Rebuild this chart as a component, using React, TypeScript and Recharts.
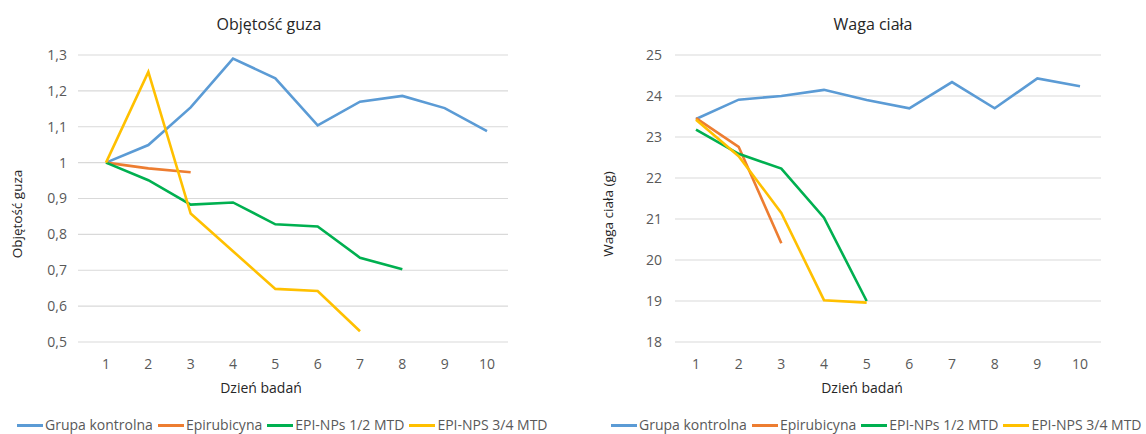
import React from "react";
import { LineChart, Line, XAxis, YAxis, CartesianGrid } from "recharts";

// dni badania
const days = [1, 2, 3, 4, 5, 6, 7, 8, 9, 10];

// objętość guza (względna)
const tumorControl = [1, 1.049, 1.154, 1.29, 1.235, 1.104, 1.17, 1.186, 1.152, 1.088];
const tumorEpi = [1, 0.984, 0.973];
const tumorNp12 = [1, 0.951, 0.883, 0.889, 0.828, 0.822, 0.735, 0.703];
const tumorNp34 = [1, 1.253, 0.858, 0.753, 0.648, 0.642, 0.53];
const tumorTicks = [0.5, 0.6, 0.7, 0.8, 0.9, 1, 1.1, 1.2, 1.3];

// waga ciała (g)
const weightControl = [23.44, 23.91, 24.0, 24.15, 23.9, 23.7, 24.34, 23.7, 24.43, 24.24];
const weightEpi = [23.46, 22.76, 20.41];
const weightNp12 = [23.18, 22.59, 22.23, 21.03, 19.0];
const weightNp34 = [23.42, 22.53, 21.15, 19.02, 18.96];
const weightTicks = [18, 19, 20, 21, 22, 23, 24, 25];

const seriesNames = ["Grupa kontrolna", "Epirubicyna", "EPI-NPs 1/2 MTD", "EPI-NPS 3/4 MTD"];
const seriesKeys = ["control", "epi", "np12", "np34"];
const colors = ["#5B9BD5", "#ED7D31", "#00B050", "#FFC000"];

const FONT = "'Open Sans', 'DejaVu Sans', sans-serif";

function buildRows(series: number[][]) {
  return days.map((d, i) => {
    const row: Record<string, number | undefined> = { day: d };
    seriesKeys.forEach((k, j) => {
      row[k] = series[j][i];
    });
    return row;
  });
}

const tumorRows = buildRows([tumorControl, tumorEpi, tumorNp12, tumorNp34]);
const weightRows = buildRows([weightControl, weightEpi, weightNp12, weightNp34]);

const fmt = (v: number) => String(v).replace(".", ",");

interface PanelProps {
  left: number;
  title: string;
  titleX: number;
  yLabel: string;
  yLabelX: number;
  xLabelX: number;
  legendX: number;
  rows: Record<string, number | undefined>[];
  domain: [number, number];
  ticks: number[];
  yAxisWidth: number;
  rightMargin: number;
  padLeft: number;
  padRight: number;
  tickMargin: number;
}

function Panel(p: PanelProps) {
  return (
    <div style={{ position: "absolute", left: p.left, top: 0, width: 573, height: 434 }}>
      <LineChart
        width={573}
        height={434}
        data={p.rows}
        margin={{ top: 55, right: p.rightMargin, bottom: 42, left: 0 }}
      >
        <CartesianGrid vertical={false} stroke="#d9d9d9" strokeWidth={1.2} />
        <XAxis
          dataKey="day"
          height={50}
          padding={{ left: p.padLeft, right: p.padRight }}
          axisLine={false}
          tickLine={false}
          tickSize={0}
          tickMargin={17}
          tick={{ fill: "#595959", fontSize: 14, fontFamily: FONT }}
        />
        <YAxis
          width={p.yAxisWidth}
          domain={p.domain}
          ticks={p.ticks}
          axisLine={false}
          tickLine={false}
          tickSize={0}
          tickMargin={p.tickMargin}
          tickFormatter={fmt}
          tick={{ fill: "#595959", fontSize: 14, fontFamily: FONT }}
        />
        {seriesKeys.map((k, i) => (
          <Line
            key={k}
            dataKey={k}
            stroke={colors[i]}
            strokeWidth={2.6}
            dot={false}
            activeDot={false}
            isAnimationActive={false}
          />
        ))}
      </LineChart>
      <div
        style={{
          position: "absolute",
          left: p.titleX,
          top: 24,
          transform: "translate(-50%, -50%)",
          fontFamily: FONT,
          fontSize: 16,
          color: "#262626",
          whiteSpace: "nowrap",
        }}
      >
        {p.title}
      </div>
      <div
        style={{
          position: "absolute",
          left: p.yLabelX,
          top: 214,
          transform: "translate(-50%, -50%) rotate(-90deg)",
          fontFamily: FONT,
          fontSize: 13.5,
          color: "#262626",
          whiteSpace: "nowrap",
        }}
      >
        {p.yLabel}
      </div>
      <div
        style={{
          position: "absolute",
          left: p.xLabelX,
          top: 387,
          transform: "translate(-50%, -50%)",
          fontFamily: FONT,
          fontSize: 14,
          color: "#262626",
          whiteSpace: "nowrap",
        }}
      >
        Dzień badań
      </div>
      <div
        style={{
          position: "absolute",
          left: p.legendX,
          top: 417,
          display: "flex",
          alignItems: "center",
          fontFamily: FONT,
          fontSize: 14,
          color: "#595959",
          whiteSpace: "nowrap",
          lineHeight: "16px",
        }}
      >
        {seriesNames.map((n, i) => (
          <div key={n} style={{ display: "flex", alignItems: "center", marginRight: 5 }}>
            <span
              style={{ display: "inline-block", width: 26, height: 3, background: colors[i], marginRight: 2 }}
            />
            <span>{n}</span>
          </div>
        ))}
      </div>
    </div>
  );
}

export default function App() {
  return (
    <div style={{ position: "absolute", left: 0, top: 0, width: 1146, height: 434, background: "#fff", overflow: "hidden" }}>
      <Panel
        left={0}
        title="Objętość guza"
        titleX={269}
        yLabel="Objętość guza"
        yLabelX={17}
        xLabelX={261}
        legendX={17}
        rows={tumorRows}
        domain={[0.5, 1.3]}
        ticks={tumorTicks}
        yAxisWidth={78}
        rightMargin={65}
        padLeft={28}
        padRight={21}
        tickMargin={11}
      />
      <Panel
        left={573}
        title="Waga ciała"
        titleX={300}
        yLabel="Waga ciała (g)"
        yLabelX={35}
        xLabelX={289}
        legendX={38}
        rows={weightRows}
        domain={[18, 25]}
        ticks={weightTicks}
        yAxisWidth={102}
        rightMargin={45}
        padLeft={21}
        padRight={21}
        tickMargin={13}
      />
    </div>
  );
}
